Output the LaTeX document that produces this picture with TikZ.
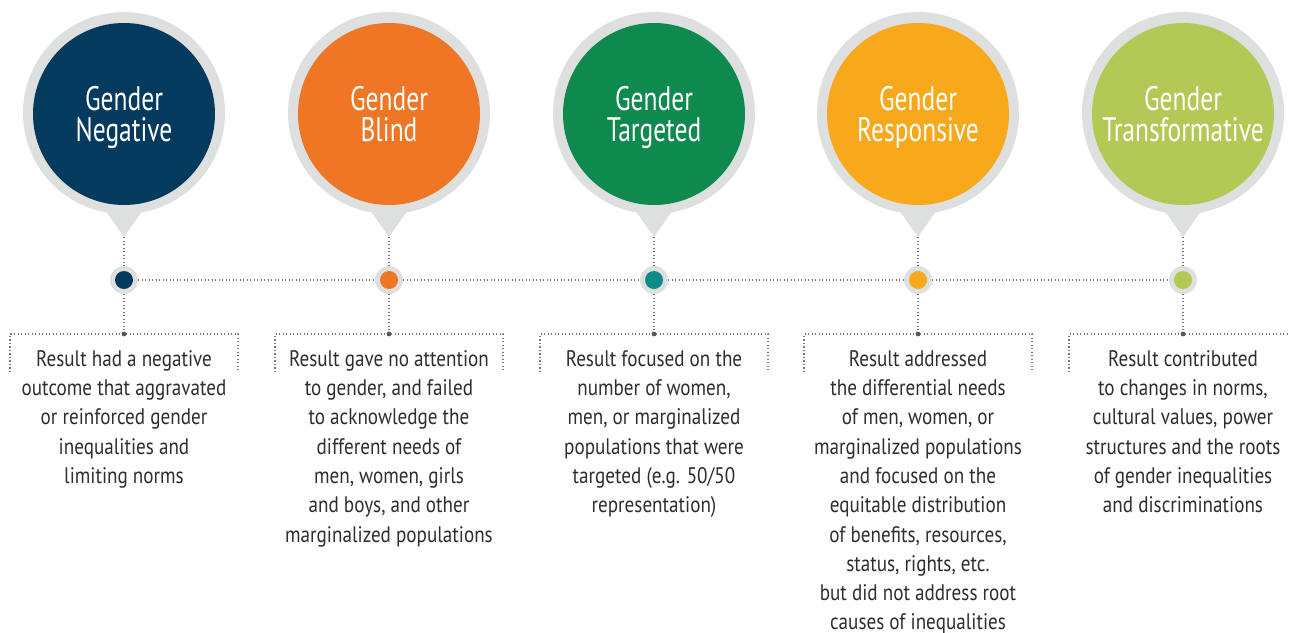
\documentclass[tikz,border=0pt]{standalone}
\usepackage{fontspec}
\setmainfont[FakeStretch=0.85]{PT Sans}
\newfontfamily\titlefont[FakeStretch=0.75]{PT Sans}
\definecolor{navy}{HTML}{033A5D}
\definecolor{orangeb}{HTML}{EE7624}
\definecolor{greent}{HTML}{0E8A4F}
\definecolor{tealdot}{HTML}{0E8B8C}
\definecolor{amber}{HTML}{F7A81B}
\definecolor{lime}{HTML}{B4C955}
\definecolor{ringgray}{HTML}{DEDFDF}
\definecolor{dotgray}{HTML}{777777}
\definecolor{txtgray}{HTML}{2E2E2E}
\tikzset{
  ring/.style={fill=ringgray},
  disc/.style={circle, minimum size=182pt, inner sep=0pt},
  title/.style={anchor=north, inner sep=0pt, text=white, align=center,
    font=\titlefont\fontsize{34}{31}\selectfont},
  dotring/.style={circle, fill=ringgray, minimum size=28pt, inner sep=0pt},
  dotcore/.style={circle, minimum size=18pt, inner sep=0pt},
  dotline/.style={draw=dotgray, line width=1.1pt, dash pattern=on 1.1pt off 2.4pt},
  body/.style={anchor=north, inner sep=0pt, align=center, text=txtgray,
    font=\fontsize{22.5}{29.3}\selectfont},
}
% one pin: id, x position, disc colour, dot colour, title
\newcommand\genderpin[5]{%
  \fill[ring] (#2,113) circle[radius=101];
  \fill[ring] (#2-21,207) -- (#2+21,207) -- (#2,237) -- cycle;
  \node[disc, fill=#3] (c#1) at (#2,114) {};
  \node[title] (h#1) at (#2,85) {\rule{0pt}{25pt}#5};
  \coordinate (tip#1) at (#2,237);
  \node[dotring] (d#1) at (#2,280) {};
  \node[dotcore, fill=#4] (k#1) at (d#1) {};
  \coordinate (top#1) at (#2,334);
  \coordinate (tl#1) at (#2-114,334);
  \coordinate (tr#1) at (#2+114,334);
  \coordinate (bl#1) at (#2-114,372);
  \coordinate (br#1) at (#2+114,372);
  \draw[dotline] (tip#1) -- (d#1);
  \draw[dotline] (d#1) -- (top#1);
  \draw[dotline] (bl#1) -- (tl#1) -- (tr#1) -- (br#1);
  \fill[txtgray!80] (top#1) circle[radius=2.4];
}
\newcommand\firstline{\rule{0pt}{16pt}}
\begin{document}
\begin{tikzpicture}[x=1pt, y=-1pt]
\useasboundingbox[fill=white] (0,0) rectangle (1289,632);

\genderpin{1}{124}{navy}{navy}{Gender\\Negative}
\genderpin{2}{389}{orangeb}{orangeb}{Gender\\Blind}
\genderpin{3}{654}{greent}{tealdot}{Gender\\Targeted}
\genderpin{4}{918}{amber}{amber}{Gender\\Responsive}
\genderpin{5}{1183}{lime}{lime}{Gender\\Transformative}

\draw[dotline] (d1) -- (d2);
\draw[dotline] (d2) -- (d3);
\draw[dotline] (d3) -- (d4);
\draw[dotline] (d4) -- (d5);

\node[body] (t1) at (124,350) {\firstline Result had a negative\\outcome that aggravated\\or reinforced gender\\inequalities and\\limiting norms};
\node[body] (t2) at (389,350) {\firstline Result gave no attention\\to gender, and failed\\to acknowledge the\\different needs of\\men, women, girls\\and boys, and other\\marginalized populations};
\node[body] (t3) at (654,350) {\firstline Result focused on the\\number of women,\\men, or marginalized\\populations that were\\targeted (e.g. 50/50\\representation)};
\node[body] (t4) at (918,350) {\firstline Result addressed\\the differential needs\\of men, women, or\\marginalized populations\\and focused on the\\equitable distribution\\of benefits, resources,\\status, rights, etc.\\but did not address root\\causes of inequalities};
\node[body] (t5) at (1183,350) {\firstline Result contributed\\to changes in norms,\\cultural values, power\\structures and the roots\\of gender inequalities\\and discriminations};
\end{tikzpicture}
\end{document}
